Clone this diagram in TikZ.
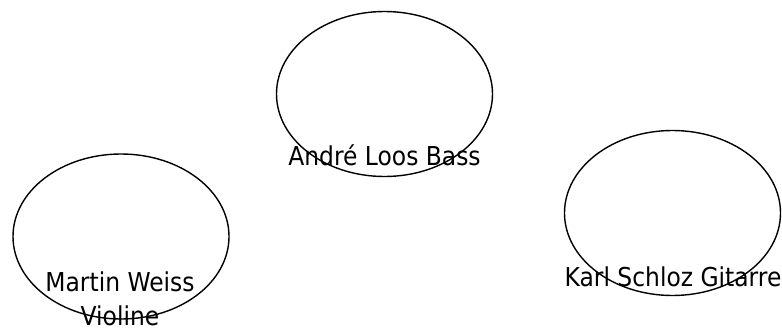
\documentclass[tikz,border=0pt]{standalone}
\usepackage{fontspec}
\setmainfont{DejaVu Sans}[FakeStretch=0.9]
\usetikzlibrary{shapes.geometric}
\begin{document}
\begin{tikzpicture}[x=1pt,y=-1pt,
  person/.style={draw=black,line width=1.4pt,ellipse,inner sep=0pt,minimum width=216pt,minimum height=165pt},
  lbl/.style={font=\fontsize{26}{34}\selectfont,inner sep=0pt,anchor=base,align=center}]
\useasboundingbox (0,0) rectangle (782,329);
\node[person] (e1) at (384.5,94) {};
\node[person] (e2) at (121,236.5) {};
\node[person] (e3) at (672.5,213) {};
\node[lbl] (t1) at (384.5,165) {André Loos Bass};
\node[lbl,anchor=north] (t2) at (120,272) {Martin Weiss\\Violine};
\node[lbl] (t3) at (673,286) {Karl Schloz Gitarre};
\end{tikzpicture}
\end{document}
